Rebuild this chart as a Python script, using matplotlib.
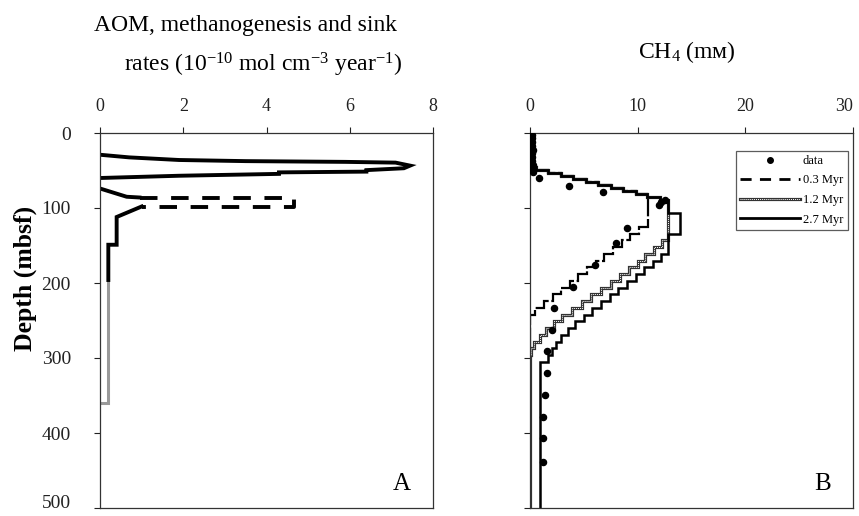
import matplotlib
matplotlib.use('Agg')
import matplotlib.pyplot as plt
from matplotlib.lines import Line2D
from matplotlib.legend_handler import HandlerTuple

plt.rcParams['font.family'] = ['Liberation Serif', 'DejaVu Serif']
plt.rcParams['mathtext.fontset'] = 'custom'
plt.rcParams['mathtext.rm'] = 'Liberation Serif'
plt.rcParams['mathtext.it'] = 'Liberation Serif:italic'

# ---------------- Panel A data (rates, 1e-10 mol cm-3 yr-1 vs depth) ----------------
aom_depth = [29, 32.5, 36, 37.5, 38.5, 39.5, 43.5, 47, 49.5, 51.5, 52.5, 54.5, 57, 60]
aom_rate = [0, 0.7, 1.9, 3.5, 5.9, 7.1, 7.45, 7.3, 6.4, 6.4, 4.3, 4.3, 1.9, 0]

upper_solid_depth = [74, 85, 86]
upper_solid_rate = [0, 0.64, 0.95]

dashed_depth = [86, 86, 98, 98]
dashed_rate = [0.95, 4.65, 4.65, 1.0]

lower_solid_depth = [98, 112, 149, 149, 196]
lower_solid_rate = [1.0, 0.4, 0.4, 0.2, 0.2]

gray_depth = [196, 360, 360]
gray_rate = [0.2, 0.2, 0.03]

# ---------------- Panel B data (CH4, mM vs depth) ----------------
ch4_depth = [2, 7, 12, 17, 22, 27, 32, 37, 42, 47, 52, 60, 70, 79, 89, 92, 96,
             127, 147, 176, 205, 233, 262, 290, 320, 349, 378, 407, 438]
ch4_conc = [0.15, 0.2, 0.15, 0.2, 0.25, 0.2, 0.15, 0.2, 0.25, 0.2, 0.3, 0.87, 3.6,
            6.8, 12.5, 12.2, 12.0, 9.0, 8.0, 6.0, 4.0, 2.2, 2.0, 1.6, 1.55, 1.4,
            1.25, 1.2, 1.2]

model_edges = [0, 45, 49, 53, 57, 61, 65, 69, 73, 77, 81, 85, 89,
               98, 107, 116, 125, 134, 143, 152, 161, 170, 179, 188, 197, 206,
               215, 224, 233, 242, 251, 260, 269, 278, 287, 296, 305, 500]

ch4_03 = [0, 0.6, 1.7, 2.9, 4.0, 5.2, 6.3, 7.5, 8.6, 9.8, 10.9, 11.0,
          11.0, 11.0, 11.0, 11.0, 10.1, 9.3, 8.5, 7.7, 6.9, 6.1, 5.3, 4.5, 3.7,
          2.9, 2.1, 1.3, 0.5, 0, 0, 0, 0, 0, 0, 0, 0]
ch4_12 = [0, 0.6, 1.7, 2.9, 4.0, 5.2, 6.3, 7.5, 8.6, 9.8, 10.9, 12.1,
          12.8, 12.8, 12.8, 12.8, 12.8, 12.8, 12.3, 11.5, 10.7, 10.0, 9.2, 8.4,
          7.5, 6.6, 5.7, 4.8, 3.9, 3.0, 2.2, 1.5, 0.9, 0.4, 0.1, 0, 0]
ch4_27 = [0, 0.6, 1.7, 2.9, 4.0, 5.2, 6.3, 7.5, 8.6, 9.8, 10.9, 12.1,
          12.8, 12.8, 13.9, 13.9, 13.9, 12.8, 12.8, 12.8, 12.2, 11.4, 10.6, 9.8,
          9.0, 8.2, 7.4, 6.6, 5.8, 5.0, 4.2, 3.5, 2.9, 2.4, 2.0, 1.7, 0.93]

a_xticks = [0, 2, 4, 6, 8]
b_xticks = [0, 10, 20, 30]
yticks = [0, 100, 200, 300, 400, 500]

fig = plt.figure(figsize=(8.59, 5.16), dpi=100)
axA = fig.add_axes([100 / 859, 1 - 508 / 516, 333 / 859, 375 / 516])
axB = fig.add_axes([530 / 859, 1 - 508 / 516, 323 / 859, 375 / 516])

for ax in (axA, axB):
    ax.set_ylim(500, 0)
    ax.xaxis.tick_top()
    ax.tick_params(axis='x', direction='out', length=4, width=0.8,
                   labelsize=13, pad=9, colors='#222222')
    ax.tick_params(axis='y', direction='out', length=4, width=0.8,
                   labelsize=14, pad=17, colors='#222222')
    ax.set_yticks(yticks)
    for s in ax.spines.values():
        s.set_linewidth(0.9)
        s.set_color('#333333')

# Panel A
axA.set_xlim(0, 8)
axA.set_xticks(a_xticks)
axA.set_yticklabels([str(v) for v in yticks])
axA.plot(gray_rate, gray_depth, color='#999999', lw=2.2, solid_joinstyle='miter')
axA.plot(aom_rate, aom_depth, color='black', lw=2.8, solid_joinstyle='miter')
axA.plot(upper_solid_rate, upper_solid_depth, color='black', lw=2.8)
axA.plot(dashed_rate, dashed_depth, color='black', lw=2.8, dashes=(4.5, 3.5))
axA.plot(lower_solid_rate, lower_solid_depth, color='black', lw=2.8,
         solid_joinstyle='miter')
axA.text(0.905, 0.035, 'A', transform=axA.transAxes, fontsize=18, ha='center',
         va='bottom')
axA.set_ylabel('Depth (mbsf)', fontsize=18.5, fontweight='bold')
axA.yaxis.set_label_coords(-0.19, 0.613)

# Panel B
axB.set_xlim(0, 30)
axB.set_xticks(b_xticks)
axB.set_yticklabels([])
axB.stairs(ch4_03, model_edges, orientation='horizontal', baseline=None,
           color='black', lw=1.6, linestyle=(0, (9, 1.2)))
axB.stairs(ch4_12, model_edges, orientation='horizontal', baseline=None,
           color='#333333', lw=2.3)
axB.stairs(ch4_12, model_edges, orientation='horizontal', baseline=None,
           color='white', lw=0.7, linestyle=(0, (1, 1)))
axB.stairs(ch4_27, model_edges, orientation='horizontal', baseline=None,
           color='black', lw=1.8)
axB.plot(ch4_conc, ch4_depth, 'o', color='black', ms=4.4, zorder=5)
axB.text(0.905, 0.035, 'B', transform=axB.transAxes, fontsize=18, ha='center',
         va='bottom')

# keep edge labels inside the canvas
last_x = axB.xaxis.get_major_ticks()[-1]
last_x.label1.set_ha('right')
last_x.label2.set_ha('right')
last_y = axA.yaxis.get_major_ticks()[-1]
last_y.label1.set_va('baseline')

h_data = Line2D([], [], marker='o', ls='none', color='black', ms=4)
h_03 = Line2D([], [], color='black', lw=2, dashes=(4, 3))
h_12a = Line2D([], [], color='#333333', lw=2.3)
h_12b = Line2D([], [], color='white', lw=0.7, ls=(0, (1, 1)))
h_27 = Line2D([], [], color='black', lw=2)
leg = axB.legend([h_data, h_03, (h_12a, h_12b), h_27],
                 ['data', '0.3 Myr', '1.2 Myr', '2.7 Myr'],
                 handler_map={tuple: HandlerTuple(ndivide=1)},
                 loc='upper right', bbox_to_anchor=(0.983, 0.953),
                 fontsize=9, frameon=True, fancybox=False, handlelength=4.8,
                 handletextpad=0.2, labelspacing=0.6, borderpad=0.35,
                 borderaxespad=0.0)
leg.get_frame().set_edgecolor('#333333')
leg.get_frame().set_linewidth(0.9)

# Titles
fig.text(245 / 859, 1 - 26 / 516, 'AOM, methanogenesis and sink', fontsize=17,
         ha='center', va='center')
fig.text(263 / 859, 1 - 65 / 516,
         r'rates (10$^{-10}$ mol cm$^{-3}$ year$^{-1}$)', fontsize=17,
         ha='center', va='center')
fig.text(687 / 859, 1 - 52 / 516, r'CH$_4$ (mм)', fontsize=17, ha='center',
         va='center')

fig.savefig('out.png', dpi=100)
